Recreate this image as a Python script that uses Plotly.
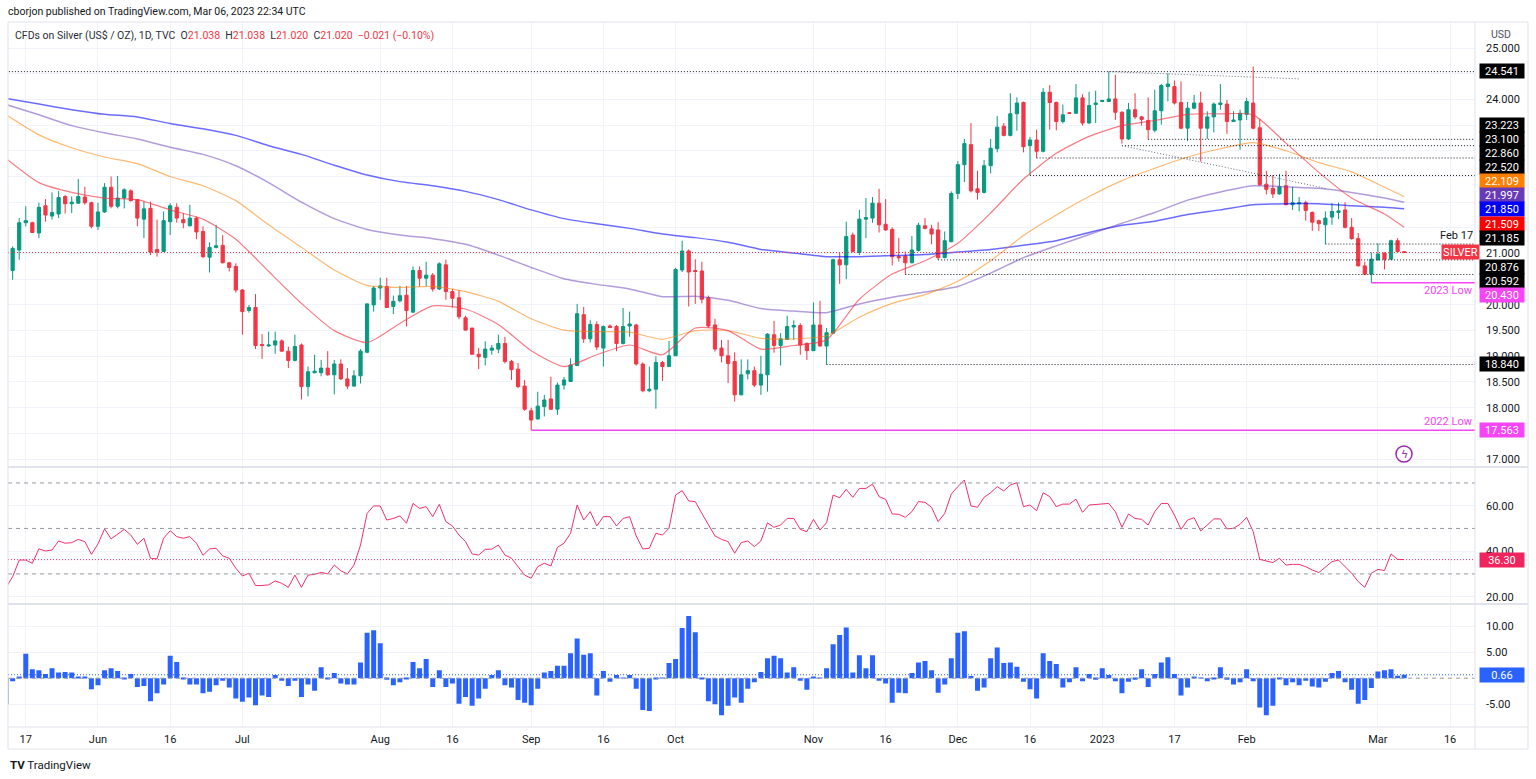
import pandas as pd
import plotly.graph_objects as go

FONT = "Roboto"
TXT = "#131722"
GRID = "#f0f3fa"

# trading days shown on the chart (May 12 2022 .. Mar 7 2023)
dates = pd.bdate_range("2022-05-12", "2023-03-07")

opens = [
    21.50, 20.67, 21.07, 21.60, 21.60, 21.40, 21.93, 21.73, 21.77, 22.11,
    21.97, 21.98, 22.10, 21.99, 21.53, 21.81, 22.29, 21.92, 22.08, 22.22,
    22.05, 21.67, 21.88, 21.08, 21.04, 21.62, 21.90, 21.66, 21.54, 21.69,
    21.43, 20.93, 21.12, 21.16, 20.82, 20.75, 20.29, 19.89, 19.95, 19.23,
    19.20, 19.22, 19.30, 19.10, 18.92, 19.22, 18.41, 18.68, 18.68, 18.77,
    18.64, 18.85, 18.56, 18.42, 18.62, 19.08, 20.00, 20.33, 20.36, 19.97,
    20.08, 20.19, 19.86, 20.67, 20.52, 20.58, 20.31, 20.78, 20.26, 20.14,
    19.75, 19.55, 19.04, 18.98, 19.12, 19.14, 19.25, 18.90, 18.75, 18.42,
    17.94, 17.78, 18.02, 18.17, 17.97, 18.44, 18.51, 18.82, 19.81, 19.34,
    19.62, 19.16, 19.59, 19.58, 19.25, 19.59, 19.61, 18.85, 18.33, 18.36,
    18.88, 18.80, 19.01, 20.68, 21.05, 20.67, 20.66, 20.14, 19.61, 19.16,
    19.01, 18.90, 18.25, 18.66, 18.72, 18.44, 18.64, 19.42, 19.21, 19.33,
    19.57, 19.60, 19.25, 19.11, 19.61, 19.20, 19.45, 20.88, 20.78, 21.36,
    21.02, 21.67, 21.69, 21.98, 21.57, 21.47, 20.94, 20.95, 20.82, 21.06,
    21.54, 21.48, 21.46, 20.92, 21.23, 22.17, 22.73, 23.12, 22.26, 22.19,
    22.71, 23.04, 23.48, 23.30, 23.72, 23.94, 23.10, 23.21, 22.99, 24.14,
    23.94, 23.57, 23.74, 23.73, 24.03, 23.54, 23.90, 23.96, 23.96, 24.01,
    23.75, 23.23, 23.80, 23.66, 23.59, 23.40, 23.78, 24.25, 24.25, 23.94,
    23.44, 23.83, 23.93, 23.44, 23.66, 23.90, 23.91, 23.57, 23.60, 23.71,
    23.93, 23.45, 22.35, 22.27, 22.16, 22.32, 21.95, 21.97, 21.99, 21.80,
    21.64, 21.56, 21.71, 21.80, 21.85, 21.51, 21.29, 20.76, 20.60, 20.88,
    21.01, 20.89, 21.25, 21.038,
]
highs = [
    21.58, 21.14, 21.69, 21.92, 21.62, 21.99, 22.06, 22.19, 22.22, 22.14,
    22.11, 22.45, 22.30, 22.01, 21.99, 22.37, 22.50, 22.51, 22.27, 22.25,
    22.05, 22.01, 22.01, 21.66, 21.82, 21.98, 21.98, 21.79, 21.95, 21.72,
    21.53, 21.22, 21.56, 21.36, 20.84, 20.81, 20.31, 20.00, 20.21, 19.43,
    19.48, 19.48, 19.33, 19.19, 19.42, 19.25, 18.80, 19.03, 18.93, 19.10,
    18.93, 18.94, 18.77, 18.73, 19.14, 20.03, 20.37, 20.53, 20.53, 20.18,
    20.37, 20.37, 20.75, 20.75, 20.84, 20.62, 20.83, 20.88, 20.31, 20.29,
    19.79, 19.55, 19.16, 19.29, 19.22, 19.42, 19.38, 18.93, 18.87, 18.54,
    18.00, 18.31, 18.25, 18.60, 18.49, 18.60, 18.96, 20.02, 19.96, 19.70,
    19.68, 19.60, 19.62, 19.61, 19.94, 19.87, 19.63, 18.88, 18.80, 19.00,
    18.91, 19.30, 20.72, 21.25, 21.08, 20.89, 20.84, 20.18, 19.73, 19.32,
    19.32, 19.08, 18.94, 18.94, 18.80, 19.01, 19.45, 19.69, 19.45, 19.79,
    19.70, 19.64, 19.27, 20.05, 20.08, 19.55, 20.90, 21.02, 21.62, 21.41,
    21.85, 22.08, 22.10, 22.26, 22.06, 21.51, 21.30, 21.04, 21.34, 21.60,
    21.69, 21.56, 21.61, 21.43, 22.21, 22.80, 23.23, 23.54, 22.61, 22.82,
    23.23, 23.68, 23.54, 24.12, 24.04, 23.96, 23.27, 23.41, 24.22, 24.28,
    23.96, 23.90, 23.75, 24.30, 24.10, 24.15, 24.17, 23.99, 24.541, 24.48,
    23.77, 23.93, 24.12, 23.68, 24.04, 24.19, 24.30, 24.51, 24.37, 24.35,
    23.95, 24.09, 24.15, 23.77, 23.94, 24.30, 23.99, 23.77, 23.80, 24.03,
    24.64, 23.62, 22.61, 22.53, 22.55, 22.61, 22.30, 22.10, 22.03, 21.82,
    21.66, 21.82, 21.98, 21.99, 22.00, 21.69, 21.40, 20.84, 21.02, 21.20,
    21.02, 21.27, 21.30, 21.038,
]
lows = [
    20.67, 20.49, 20.88, 21.53, 21.40, 21.30, 21.62, 21.66, 21.69, 21.78,
    21.79, 21.97, 21.95, 21.49, 21.46, 21.79, 21.88, 21.88, 21.88, 22.01,
    21.53, 21.30, 20.97, 20.94, 21.03, 21.36, 21.60, 21.49, 21.53, 21.28,
    20.91, 20.63, 21.10, 20.81, 20.65, 20.24, 19.42, 19.85, 19.14, 18.95,
    19.19, 19.05, 19.09, 18.77, 18.90, 18.16, 18.22, 18.67, 18.61, 18.62,
    18.26, 18.54, 18.36, 18.41, 18.47, 19.06, 19.87, 20.10, 19.94, 19.82,
    20.05, 19.58, 19.84, 20.36, 20.36, 20.26, 20.29, 20.10, 19.95, 19.72,
    19.50, 19.03, 18.75, 18.82, 19.03, 19.06, 18.86, 18.54, 18.38, 17.94,
    17.563, 17.77, 17.83, 17.96, 17.86, 18.35, 18.50, 18.81, 19.26, 19.27,
    19.12, 18.80, 19.55, 19.10, 19.23, 19.38, 18.82, 18.30, 18.30, 17.98,
    18.52, 18.79, 19.01, 20.64, 19.97, 20.02, 20.03, 19.55, 19.09, 18.88,
    18.48, 18.12, 18.24, 18.55, 18.40, 18.25, 18.31, 19.07, 18.82, 19.32,
    19.32, 19.03, 18.93, 19.11, 19.19, 18.84, 19.45, 20.41, 20.50, 21.02,
    20.97, 21.30, 21.60, 21.41, 21.44, 20.77, 20.84, 20.592, 20.81, 21.04,
    21.47, 21.18, 20.876, 20.91, 21.22, 22.06, 22.39, 22.19, 22.05, 22.17,
    22.56, 22.97, 23.28, 23.28, 23.39, 22.97, 22.52, 22.86, 22.97, 23.41,
    23.40, 23.53, 23.72, 23.72, 23.49, 23.53, 23.54, 23.95, 23.95, 23.60,
    23.14, 23.21, 23.62, 23.49, 23.223, 23.36, 23.51, 23.96, 23.90, 23.42,
    23.19, 23.81, 22.79, 23.23, 23.36, 23.80, 23.33, 23.57, 23.02, 23.60,
    23.42, 22.32, 22.15, 22.08, 22.15, 21.94, 21.85, 21.82, 21.64, 21.44,
    21.44, 21.185, 21.56, 21.67, 21.49, 21.27, 20.75, 20.58, 20.43, 20.86,
    20.69, 20.88, 21.01, 21.020,
]
closes = [
    20.70, 21.10, 21.60, 21.64, 21.41, 21.90, 21.75, 21.80, 22.09, 21.97,
    22.00, 22.11, 21.99, 21.53, 21.81, 22.29, 21.92, 22.08, 22.24, 22.03,
    21.69, 21.87, 21.03, 21.03, 21.64, 21.93, 21.69, 21.60, 21.69, 21.42,
    20.94, 21.12, 21.15, 20.82, 20.73, 20.29, 19.87, 19.95, 19.21, 19.21,
    19.22, 19.30, 19.10, 18.92, 19.19, 18.41, 18.70, 18.71, 18.77, 18.64,
    18.85, 18.56, 18.42, 18.62, 19.10, 20.02, 20.33, 20.37, 19.95, 20.07,
    20.18, 19.89, 20.67, 20.52, 20.58, 20.31, 20.80, 20.26, 20.13, 19.77,
    19.51, 19.04, 18.99, 19.14, 19.16, 19.25, 18.90, 18.74, 18.41, 17.97,
    17.76, 18.03, 18.15, 17.97, 18.44, 18.54, 18.83, 19.83, 19.34, 19.62,
    19.18, 19.58, 19.56, 19.25, 19.58, 19.63, 18.85, 18.33, 18.36, 18.88,
    18.80, 19.01, 20.69, 21.05, 20.64, 20.65, 20.11, 19.59, 19.14, 19.01,
    18.86, 18.25, 18.64, 18.72, 18.44, 18.65, 19.43, 19.21, 19.34, 19.58,
    19.60, 19.22, 19.11, 19.61, 19.20, 19.46, 20.88, 20.78, 21.33, 21.04,
    21.67, 21.70, 21.98, 21.56, 21.46, 20.94, 20.92, 20.82, 21.07, 21.55,
    21.49, 21.38, 20.92, 21.25, 22.17, 22.73, 23.14, 22.22, 22.19, 22.71,
    23.05, 23.46, 23.30, 23.72, 23.93, 23.08, 23.21, 22.99, 24.14, 23.94,
    23.57, 23.70, 23.73, 24.03, 23.54, 23.88, 23.93, 23.98, 24.01, 23.75,
    23.23, 23.80, 23.66, 23.61, 23.41, 23.78, 24.27, 24.30, 23.93, 23.44,
    23.83, 23.93, 23.44, 23.66, 23.91, 23.93, 23.57, 23.60, 23.73, 23.96,
    23.44, 22.34, 22.25, 22.16, 22.30, 21.95, 21.99, 21.99, 21.84, 21.61,
    21.58, 21.69, 21.82, 21.83, 21.51, 21.29, 20.76, 20.60, 20.89, 20.99,
    20.89, 21.25, 21.041, 21.020,
]

# RSI panel, one value per bar
rsi = [
    24.1, 28.8, 36.1, 36.1, 34.7, 41.0, 40.1, 40.5, 44.5, 43.5,
    43.75, 45.2, 44.2, 38.6, 43.2, 49.8, 45.4, 47.4, 49.6, 47.1,
    43.0, 45.7, 36.9, 36.6, 45.7, 49.0, 46.4, 45.7, 46.4, 43.5,
    38.2, 41.0, 41.3, 37.9, 36.9, 32.5, 29.1, 30.3, 24.9, 24.9,
    25.2, 26.9, 25.9, 24.1, 29.5, 24.1, 29.5, 29.8, 30.7, 30.0,
    33.9, 31.4, 30.0, 33.9, 42.7, 56.6, 59.9, 59.9, 53.7, 54.4,
    55.5, 52.3, 61.0, 58.8, 59.6, 55.2, 60.6, 53.0, 51.1, 47.1,
    44.2, 38.8, 38.3, 40.8, 40.9, 42.7, 38.3, 36.9, 33.2, 29.5,
    28.1, 33.2, 34.7, 33.5, 41.7, 43.5, 47.9, 60.3, 53.7, 57.4,
    51.1, 55.2, 55.2, 51.1, 54.4, 55.2, 46.7, 41.0, 41.3, 47.9,
    47.1, 50.1, 64.7, 66.6, 62.1, 61.8, 56.6, 51.5, 46.7, 45.2,
    44.2, 39.1, 43.75, 44.5, 42.0, 44.5, 52.5, 50.5, 51.5, 54.4,
    54.4, 49.6, 48.6, 54.0, 49.3, 52.5, 64.7, 63.5, 67.2, 63.7,
    67.6, 67.6, 69.5, 64.0, 62.8, 56.4, 56.2, 54.9, 57.4, 61.8,
    61.5, 59.3, 53.0, 56.6, 65.1, 68.4, 71.3, 59.9, 59.3, 63.7,
    65.7, 68.4, 66.5, 69.1, 70.1, 59.6, 60.3, 57.8, 65.7, 64.0,
    59.6, 60.7, 60.7, 62.9, 57.1, 60.3, 60.6, 60.7, 61.0, 57.4,
    50.5, 56.35, 54.4, 54.0, 51.5, 57.4, 61.0, 61.0, 55.9, 49.6,
    53.7, 54.7, 48.9, 51.5, 54.2, 54.2, 49.8, 50.1, 51.8, 54.9,
    48.6, 36.4, 35.8, 35.0, 36.9, 33.9, 34.2, 34.2, 33.2, 31.7,
    30.6, 32.9, 35.4, 36.1, 33.2, 30.3, 26.6, 24.1, 30.3, 32.0,
    31.5, 38.8, 36.4, 36.3,
]

# histogram (lower panel), one value per bar
hist = [
    -5.0, -0.6, 0.2, 4.7, 1.7, 1.5, 0.8, 1.9, 1.1, 1.2,
    1.1, 0.25, 0.25, -2.1, -1.35, 1.5, 1.9, 1.4, -0.2, 0.8,
    -1.7, -1.5, -4.4, -2.9, -1.2, 4.3, 3.1, -0.2, -1.2, -1.2,
    -2.9, -2.6, -1.35, -0.5, -1.8, -3.9, -4.5, -3.7, -5.2, -3.3,
    -3.6, 0.6, -0.5, -1.5, -0.5, -3.6, -1.2, -2.4, 2.1, -0.2,
    1.0, -1.0, -1.2, -1.2, 3.0, 8.7, 9.2, 6.7, -0.3, -1.35,
    -0.8, -0.2, 3.1, 1.9, 3.7, -1.7, 1.5, -1.7, -1.0, -4.9,
    -3.6, -5.3, -3.9, -2.0, 0.6, 1.5, -1.35, -1.8, -4.2, -4.7,
    -5.2, -2.0, 1.1, 1.4, 2.4, 2.4, 4.8, 7.6, 4.5, 4.8,
    -3.3, 1.4, -0.7, 0.6, 0.1, 0.6, -2.0, -6.1, -6.3, -0.2,
    0.1, 2.9, 3.7, 9.6, 11.9, 8.8, -0.2, -4.4, -5.0, -7.1,
    -5.3, -3.7, -4.7, -2.0, -0.8, 1.2, 3.8, 4.3, 3.8, 1.1,
    2.1, -0.5, -2.2, 0.2, 0.1, 1.9, 6.5, 8.3, 9.7, 1.1,
    4.4, 1.9, 4.4, -0.5, -1.0, -4.7, -2.8, -2.9, 1.0, 3.0,
    3.3, 1.5, -2.8, -1.2, 3.8, 8.7, 9.0, 0.4, -2.4, -1.8,
    3.8, 5.9, 2.9, 3.0, 2.2, -0.7, -2.1, -3.9, 4.8, 3.3,
    2.7, -1.8, -0.8, 2.1, -0.6, 0.8, -0.3, 1.9, 0.6, -0.6,
    -2.9, -0.7, -0.3, 1.7, -1.7, 0.8, 3.0, 4.0, 0.8, -3.3,
    -1.8, 0.2, 0.1, -0.6, -0.2, 2.1, -0.3, -1.2, -0.8, 1.7,
    -0.6, -5.6, -7.1, -5.3, -0.2, -1.35, -0.8, -1.35, -0.5, -1.6,
    -1.8, -0.7, 1.0, 1.4, -0.8, -2.2, -4.9, -4.2, -1.9, 1.3,
    1.5, 1.7, 0.45, 0.66,
]

# moving averages read every 5th bar (plus the last bar)
ma_idx = list(range(0, 211, 5)) + [213]
ma20 = [22.85, 22.38, 22.19, 22.08, 22.05, 21.85, 21.67, 21.28, 20.65, 20.03,
        19.50, 19.27, 19.64, 19.98, 19.92, 19.62, 19.11, 18.80, 19.03, 19.22,
        19.03, 19.55, 19.50, 19.14, 19.21, 19.32, 20.11, 20.60, 20.86, 21.20,
        21.79, 22.45, 22.95, 23.28, 23.49, 23.59, 23.71, 23.72, 23.70, 23.15,
        22.58, 22.08, 21.77, 21.51]
ma50 = [23.70, 23.31, 23.06, 22.88, 22.75, 22.50, 22.32, 22.03, 21.56, 21.12,
        20.68, 20.38, 20.34, 20.36, 20.26, 20.07, 19.73, 19.51, 19.48, 19.47,
        19.33, 19.50, 19.50, 19.35, 19.34, 19.40, 19.76, 20.03, 20.20, 20.46,
        20.86, 21.35, 21.75, 22.11, 22.42, 22.66, 22.88, 23.04, 23.16, 23.00,
        22.77, 22.59, 22.29, 22.11]
ma100 = [23.90, 23.70, 23.49, 23.35, 23.23, 23.07, 22.93, 22.71, 22.38, 22.00,
         21.68, 21.47, 21.36, 21.29, 21.18, 20.97, 20.73, 20.51, 20.40, 20.31,
         20.16, 20.17, 20.09, 19.93, 19.88, 19.85, 20.02, 20.15, 20.25, 20.36,
         20.62, 20.92, 21.15, 21.37, 21.59, 21.80, 22.04, 22.20, 22.32, 22.30,
         22.27, 22.19, 22.08, 22.00]
ma200 = [24.02, 23.91, 23.80, 23.71, 23.66, 23.53, 23.43, 23.30, 23.10, 22.93,
         22.72, 22.53, 22.40, 22.32, 22.21, 22.05, 21.85, 21.68, 21.58, 21.49,
         21.38, 21.31, 21.22, 21.08, 21.01, 20.94, 20.94, 20.96, 20.98, 21.03,
         21.08, 21.16, 21.25, 21.41, 21.55, 21.63, 21.76, 21.85, 21.95, 21.97,
         21.97, 21.93, 21.90, 21.87]

# horizontal levels drawn by the author: (price, start date)
levels = [(24.541, "2022-05-01"), (23.223, "2023-01-11"), (23.100, "2023-01-05"),
          (22.860, "2022-12-19"), (22.520, "2022-12-16"), (21.185, "2023-02-17"),
          (20.876, "2022-11-28"), (20.592, "2022-11-21"), (18.840, "2022-11-03")]
low_levels = [(20.430, "2023-02-28"), (17.563, "2022-09-01")]
trendlines = [("2023-01-03", 24.541, "2023-02-13", 24.40),
              ("2023-01-05", 23.100, "2023-02-17", 22.27)]
last_price = 21.020
last_rsi = 36.30
last_hist = 0.66

tick_dates = ["2022-05-17", "2022-06-01", "2022-06-16", "2022-07-01", "2022-08-01",
              "2022-08-16", "2022-09-01", "2022-09-16", "2022-10-03", "2022-11-01",
              "2022-11-16", "2022-12-01", "2022-12-16", "2023-01-02", "2023-01-17",
              "2023-02-01", "2023-03-01", "2023-03-16"]
tick_text = ["17", "Jun", "16", "Jul", "Aug", "16", "Sep", "16", "Oct", "Nov",
             "16", "Dec", "16", "2023", "17", "Feb", "Mar", "16"]

price_ticks = [17 + 0.5 * k for k in range(18)]
price_shown = {25.0, 24.0, 21.0, 20.0, 19.5, 19.0, 18.5, 18.0, 17.0}
price_text = ["%.3f" % v if v in price_shown else "" for v in price_ticks]

# right-hand price tags: text, pixel row, colour
tags = [("24.541", 71, "#000000"), ("23.223", 124.7, "#000000"), ("23.100", 138.7, "#000000"),
        ("22.860", 152.7, "#000000"), ("22.520", 166.7, "#000000"), ("22.109", 181, "#ff7f00"),
        ("21.997", 195, "#673ab7"), ("21.850", 209.3, "#0000ff"), ("21.509", 223.7, "#ff0000"),
        ("21.185", 238, "#000000"), ("20.876", 266.7, "#000000"), ("20.592", 281, "#000000"),
        ("20.430", 295.3, "#f545f5"), ("18.840", 363.7, "#000000"), ("17.563", 430, "#f545f5"),
        ("36.30", 560, "#f0245e"), ("0.66", 675, "#2962ff")]

assert len(opens) == len(highs) == len(lows) == len(closes) == len(rsi) == len(hist) == len(dates)


def pxx(x):
    return (x - 8) / 1467.0


def pxy(y):
    return (727 - y) / 705.0


def note(x, y, text, anchor="center", **kw):
    fig.add_annotation(xref="paper", yref="paper", x=pxx(x), y=pxy(y), text=text, showarrow=False,
                       xanchor=anchor, yanchor="middle", **kw)


fig = go.Figure()

fig.add_trace(go.Candlestick(
    x=dates, open=opens, high=highs, low=lows, close=closes,
    increasing=dict(line=dict(color="#089981", width=1), fillcolor="#089981"),
    decreasing=dict(line=dict(color="#f23645", width=1), fillcolor="#f23645"),
    whiskerwidth=0, hoverinfo="skip", xaxis="x", yaxis="y",
))

ma_x = [dates[i] for i in ma_idx]
for vals, col, w in [(ma200, "rgba(0,0,255,0.58)", 1.5), (ma100, "rgba(103,58,183,0.5)", 1.5),
                     (ma50, "rgba(255,127,0,0.55)", 1.2), (ma20, "rgba(242,54,69,0.65)", 1.2)]:
    fig.add_trace(go.Scatter(x=ma_x, y=vals, mode="lines",
                             line=dict(color=col, width=w, shape="spline", smoothing=0.6),
                             hoverinfo="skip", xaxis="x", yaxis="y"))

fig.add_trace(go.Scatter(x=dates, y=rsi, mode="lines", line=dict(color="#f0306a", width=1),
                         hoverinfo="skip", xaxis="x", yaxis="y2"))

fig.add_trace(go.Bar(x=dates, y=hist, marker=dict(color="#2962ff", line=dict(width=0)),
                     width=0.76 * 86400000, hoverinfo="skip", xaxis="x", yaxis="y3"))

DOT = "1px,2px"
# author levels
for val, start in levels:
    fig.add_shape(type="line", xref="x", yref="y", x0=start, x1="2023-03-23", y0=val, y1=val,
                  line=dict(color="#131722", width=1, dash=DOT))
for val, start in low_levels:
    fig.add_shape(type="line", xref="x", yref="y", x0=start, x1="2023-03-23", y0=val, y1=val,
                  line=dict(color="#f545f5", width=1.5))
for d0, p0, d1, p1 in trendlines:
    fig.add_shape(type="line", xref="x", yref="y", x0=d0, x1=d1, y0=p0, y1=p1,
                  line=dict(color="#6a6d78", width=1, dash=DOT))
fig.add_shape(type="line", xref="paper", yref="y", x0=0, x1=1, y0=last_price, y1=last_price,
              line=dict(color="#f23645", width=1, dash=DOT))

# RSI bands
for lv in (70, 50, 30):
    fig.add_shape(type="line", xref="paper", yref="y2", x0=0, x1=1, y0=lv, y1=lv,
                  line=dict(color="#9598a1", width=1, dash="4px,4px"))
fig.add_shape(type="line", xref="paper", yref="y2", x0=0, x1=1, y0=last_rsi, y1=last_rsi,
              line=dict(color="#f0306a", width=1, dash=DOT))
fig.add_shape(type="line", xref="paper", yref="y3", x0=0, x1=1, y0=0, y1=0,
              line=dict(color="#9598a1", width=1, dash="4px,4px"))
fig.add_shape(type="line", xref="paper", yref="y3", x0=0, x1=1, y0=last_hist, y1=last_hist,
              line=dict(color="#2962ff", width=1, dash=DOT))

# frame and pane separators
right_edge = pxx(1528)
for ypx in (467, 604):
    fig.add_shape(type="line", xref="paper", yref="paper", x0=0, x1=right_edge, y0=pxy(ypx), y1=pxy(ypx),
                  line=dict(color="#e0e3eb", width=2))
fig.add_shape(type="rect", xref="paper", yref="paper", x0=0, x1=right_edge, y0=pxy(749), y1=1,
              line=dict(color="#e0e3eb", width=1))
fig.add_shape(type="line", xref="paper", yref="paper", x0=1, x1=1, y0=pxy(749), y1=1,
              line=dict(color="#e0e3eb", width=1))
fig.add_shape(type="line", xref="paper", yref="paper", x0=0, x1=right_edge, y0=0, y1=0,
              line=dict(color="#e0e3eb", width=1))

# price tags on the right scale
for text, ypx, bg in tags:
    note(1502, ypx, text, bgcolor=bg, width=44, height=14, borderpad=0,
         font=dict(family=FONT, size=11, color="white"))

note(1460, 252.5, "SILVER", bgcolor="#f23645", width=37, height=14, borderpad=0,
     font=dict(family=FONT, size=11, color="white"))
note(1475, 235, "Feb 17", anchor="right", font=dict(family=FONT, size=11, color=TXT))
for lbl, ypx in (("2023 Low", 290), ("2022 Low", 421.7)):
    note(1475, ypx, lbl, anchor="right", font=dict(family=FONT, size=11, color="#f545f5"))
note(1489, 34, "USD", anchor="left", font=dict(family=FONT, size=10.5, color="#50535e"))

# header texts
note(6, 12, "cborjon published on TradingView.com, Mar 06, 2023 22:34 UTC", anchor="left",
     font=dict(family=FONT, size=10.5, color=TXT))
red = "<span style='color:#f23645'>%s</span>"
header = ("CFDs on Silver (US$ / OZ), 1D, TVC  O" + red % "21.038" + "  H" + red % "21.038" +
          "  L" + red % "21.020" + "  C" + red % "21.020" + "  " + red % "−0.021 (−0.10%)")
note(13, 35, header, anchor="left", font=dict(family=FONT, size=10.5, color="#2a2e39"))
note(8, 765, "<b>TV</b> TradingView", anchor="left", font=dict(family=FONT, size=11.5, color=TXT))

# lightning badge
fig.add_shape(type="circle", xref="paper", yref="paper", x0=pxx(1396), x1=pxx(1412), y0=pxy(462), y1=pxy(446),
              line=dict(color="#9c27b0", width=1.5), fillcolor="white")
note(1404, 454, "ϟ", font=dict(family="DejaVu Sans", size=11, color="#9c27b0"))

axis_font = dict(family=FONT, size=11, color=TXT)
fig.update_layout(
    width=1536, height=779,
    margin=dict(l=8, r=61, t=22, b=52),
    paper_bgcolor="white", plot_bgcolor="white",
    showlegend=False, hovermode=False,
    font=dict(family=FONT, color=TXT),
    xaxis=dict(domain=[0, 1], anchor="y3", range=["2022-05-12 07:00", "2023-03-21 19:00"],
               rangebreaks=[dict(bounds=["sat", "mon"])], rangeslider=dict(visible=False),
               tickmode="array", tickvals=tick_dates, ticktext=tick_text, tickfont=axis_font,
               showgrid=True, gridcolor=GRID, gridwidth=1, ticks="", showline=False, zeroline=False,
               ticklabelstandoff=4),
    yaxis=dict(domain=[pxy(466.5), 1], anchor="x", side="right", range=[16.855, 25.507],
               tickmode="array", tickvals=price_ticks, ticktext=price_text, tickfont=axis_font,
               showgrid=True, gridcolor=GRID, ticks="", zeroline=False, showline=False, ticklabelstandoff=10),
    yaxis2=dict(domain=[pxy(603.5), pxy(467.5)], anchor="x", side="right", range=[17.0, 76.8],
                tickmode="array", tickvals=[20, 40, 60], ticktext=["20.00", "40.00", "60.00"], tickfont=axis_font,
                showgrid=True, gridcolor=GRID, ticks="", zeroline=False, showline=False, ticklabelstandoff=10),
    yaxis3=dict(domain=[0, pxy(604.5)], anchor="x", side="right", range=[-9.35, 14.12],
                tickmode="array", tickvals=[-5, 5, 10], ticktext=["-5.00", "5.00", "10.00"], tickfont=axis_font,
                showgrid=True, gridcolor=GRID, ticks="", zeroline=False, showline=False, ticklabelstandoff=10),
)

fig.write_html("out.html", config={"displayModeBar": False},
               post_script="document.body.style.margin='0';")
